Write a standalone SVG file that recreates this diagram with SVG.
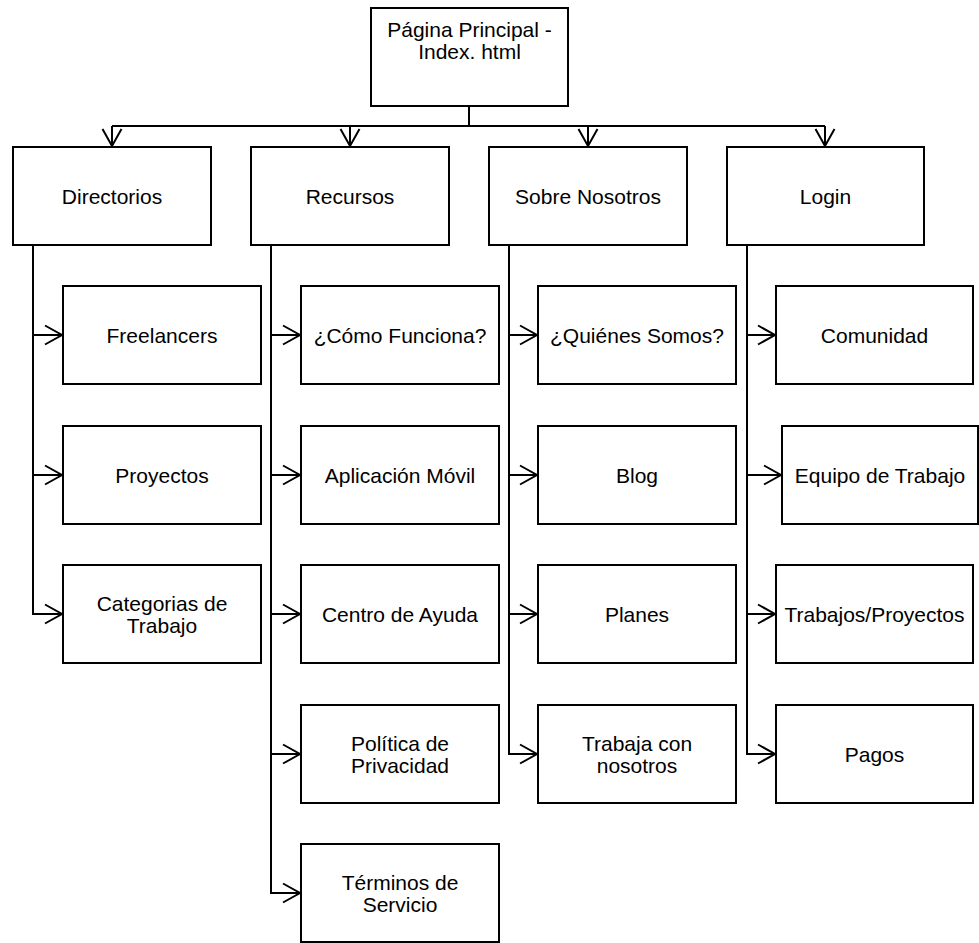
<svg xmlns="http://www.w3.org/2000/svg" width="979" height="943" viewBox="0 0 979 943">
<style>
rect.n{fill:#fff;stroke:#000;stroke-width:2}
text{font-family:"Liberation Sans",Arial,sans-serif;font-size:21px;fill:#000;text-anchor:middle}
.c path{fill:none;stroke:#000;stroke-width:2}
.c path.a{marker-end:url(#arr)}
</style>
<defs>
<marker id="arr" markerUnits="userSpaceOnUse" viewBox="-19 -11 21 22" markerWidth="21" markerHeight="22" refX="0" refY="0" orient="auto" overflow="visible">
<path d="M-17,-9.5 L0,0 L-17,9.5" fill="none" stroke="#000" stroke-width="2"/>
</marker>
</defs>
<rect width="979" height="943" fill="#fff"/>
<g class="c" id="connectors">
<path d="M469,106 V126"/>
<path d="M112,126 H825"/>
<path class="a" d="M112,126 V146"/>
<path class="a" d="M350,126 V146"/>
<path class="a" d="M588,126 V146"/>
<path class="a" d="M825,126 V146"/>
<path class="a" d="M33,245 V335 H62"/>
<path class="a" d="M33,335 V475 H62"/>
<path class="a" d="M33,475 V614 H62"/>
<path class="a" d="M271,245 V335 H300"/>
<path class="a" d="M271,335 V475 H300"/>
<path class="a" d="M271,475 V614 H300"/>
<path class="a" d="M271,614 V754 H300"/>
<path class="a" d="M271,754 V893 H300"/>
<path class="a" d="M509,245 V335 H537"/>
<path class="a" d="M509,335 V475 H537"/>
<path class="a" d="M509,475 V614 H537"/>
<path class="a" d="M509,614 V754 H537"/>
<path class="a" d="M747,245 V335 H775"/>
<path class="a" d="M747,335 V475 H781"/>
<path class="a" d="M747,475 V614 H775"/>
<path class="a" d="M747,614 V754 H775"/>
</g>
<g id="n-index"><rect class="n" x="371" y="8" width="197" height="98"/><text x="469.5" y="37">Página Principal -</text><text x="469.5" y="59">Index. html</text></g>
<g id="n-directorios"><rect class="n" x="13" y="147" width="198" height="98"/><text x="112" y="203.5">Directorios</text></g>
<g id="n-recursos"><rect class="n" x="251" y="147" width="198" height="98"/><text x="350" y="203.5">Recursos</text></g>
<g id="n-sobre"><rect class="n" x="489" y="147" width="198" height="98"/><text x="588" y="203.5">Sobre Nosotros</text></g>
<g id="n-login"><rect class="n" x="727" y="147" width="197" height="98"/><text x="825.5" y="203.5">Login</text></g>
<g id="n-freelancers"><rect class="n" x="63" y="286" width="198" height="98"/><text x="162" y="342.5">Freelancers</text></g>
<g id="n-proyectos"><rect class="n" x="63" y="426" width="198" height="98"/><text x="162" y="482.5">Proyectos</text></g>
<g id="n-categorias"><rect class="n" x="63" y="565" width="198" height="98"/><text x="162" y="610.5">Categorias de</text><text x="162" y="632.5">Trabajo</text></g>
<g id="n-como"><rect class="n" x="301" y="286" width="198" height="98"/><text x="400" y="342.5">¿Cómo Funciona?</text></g>
<g id="n-app"><rect class="n" x="301" y="426" width="198" height="98"/><text x="400" y="482.5">Aplicación Móvil</text></g>
<g id="n-ayuda"><rect class="n" x="301" y="565" width="198" height="98"/><text x="400" y="621.5">Centro de Ayuda</text></g>
<g id="n-politica"><rect class="n" x="301" y="705" width="198" height="98"/><text x="400" y="750.5">Política de</text><text x="400" y="772.5">Privacidad</text></g>
<g id="n-terminos"><rect class="n" x="301" y="844" width="198" height="98"/><text x="400" y="889.5">Términos de</text><text x="400" y="911.5">Servicio</text></g>
<g id="n-quienes"><rect class="n" x="538" y="286" width="198" height="98"/><text x="637" y="342.5">¿Quiénes Somos?</text></g>
<g id="n-blog"><rect class="n" x="538" y="426" width="198" height="98"/><text x="637" y="482.5">Blog</text></g>
<g id="n-planes"><rect class="n" x="538" y="565" width="198" height="98"/><text x="637" y="621.5">Planes</text></g>
<g id="n-trabaja"><rect class="n" x="538" y="705" width="198" height="98"/><text x="637" y="750.5">Trabaja con</text><text x="637" y="772.5">nosotros</text></g>
<g id="n-comunidad"><rect class="n" x="776" y="286" width="197" height="98"/><text x="874.5" y="342.5">Comunidad</text></g>
<g id="n-equipo"><rect class="n" x="782" y="426" width="196" height="98"/><text x="880" y="482.5">Equipo de Trabajo</text></g>
<g id="n-trabajos"><rect class="n" x="776" y="565" width="197" height="98"/><text x="874.5" y="621.5">Trabajos/Proyectos</text></g>
<g id="n-pagos"><rect class="n" x="776" y="705" width="197" height="98"/><text x="874.5" y="761.5">Pagos</text></g>
</svg>
